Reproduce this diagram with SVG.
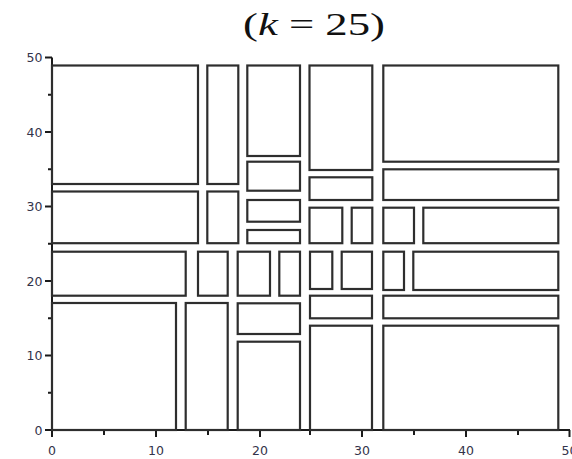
<svg xmlns="http://www.w3.org/2000/svg" width="572" height="459" viewBox="0 0 572 459">
<style>
.r{fill:none;stroke:#2e2e2e;stroke-width:2.2}
.ax{fill:none;stroke:#1a1a1a;stroke-width:2}
.tk{stroke:#1a1a1a;stroke-width:2}
.lb{font-family:"DejaVu Sans",sans-serif;font-size:12.5px;fill:#33334a}
.ttl{font-family:"Liberation Serif",serif;font-size:31px;fill:#111}
</style>
<rect width="572" height="459" fill="#fff"/>
<text class="ttl" x="243" y="35" textLength="142" lengthAdjust="spacingAndGlyphs">(<tspan font-style="italic">k</tspan> = 25)</text>
<g id="axes">
<path class="ax" d="M52,57.5 V430 H570"/>
<path class="tk" d="M45,57.5H52M48,94.75H52M45,132H52M48,169.25H52M45,206.5H52M48,243.75H52M45,281H52M48,318.25H52M45,355.5H52M48,392.75H52M45,430H52"/>
<path class="tk" d="M52,430V437M104,430V435M156,430V437M208,430V435M260,430V437M310,430V435M362,430V437M414,430V435M466,430V437M518,430V435M569.5,430V437"/>
<g class="lb" text-anchor="end">
<text x="42.5" y="62">50</text>
<text x="42.5" y="136.5">40</text>
<text x="42.5" y="211">30</text>
<text x="42.5" y="285.5">20</text>
<text x="42.5" y="360">10</text>
<text x="42.5" y="434.5">0</text>
</g>
<g class="lb" text-anchor="middle">
<text x="52" y="454.5">0</text>
<text x="156" y="454.5">10</text>
<text x="260" y="454.5">20</text>
<text x="362" y="454.5">30</text>
<text x="466" y="454.5">40</text>
<text x="569.5" y="454.5">50</text>
</g>
</g>
<g id="rects">
<g id="r1"><rect class="r" x="52" y="65.5" width="146" height="118.5"/></g>
<g id="r2"><rect class="r" x="207.3" y="65.5" width="31" height="118.5"/></g>
<g id="r3"><rect class="r" x="247.3" y="65.5" width="52.7" height="90.5"/></g>
<g id="r4"><rect class="r" x="309.5" y="65.5" width="62.8" height="104.5"/></g>
<g id="r5"><rect class="r" x="383.3" y="65.5" width="175" height="96.2"/></g>
<g id="r6"><rect class="r" x="52" y="191.5" width="146" height="51.7"/></g>
<g id="r7"><rect class="r" x="207.3" y="191.5" width="31" height="51.7"/></g>
<g id="r8"><rect class="r" x="247.3" y="161.7" width="52.7" height="29"/></g>
<g id="r9"><rect class="r" x="247.3" y="200" width="52.7" height="21.7"/></g>
<g id="r10"><rect class="r" x="247.3" y="230" width="52.7" height="13.2"/></g>
<g id="r11"><rect class="r" x="309.5" y="177.3" width="62.8" height="22.7"/></g>
<g id="r12"><rect class="r" x="309.5" y="207.7" width="32.8" height="35.5"/></g>
<g id="r13"><rect class="r" x="351.7" y="207.7" width="20.6" height="35.5"/></g>
<g id="r14"><rect class="r" x="383.3" y="169.3" width="175" height="30.7"/></g>
<g id="r15"><rect class="r" x="383.3" y="207.7" width="30.7" height="35.5"/></g>
<g id="r16"><rect class="r" x="423.3" y="207.7" width="135" height="35.5"/></g>
<g id="r17"><rect class="r" x="52" y="251.7" width="133.7" height="44"/></g>
<g id="r18"><rect class="r" x="198" y="251.7" width="29.7" height="44"/></g>
<g id="r19"><rect class="r" x="237.7" y="251.7" width="32.3" height="44"/></g>
<g id="r20"><rect class="r" x="279.3" y="251.7" width="20.7" height="44"/></g>
<g id="r21"><rect class="r" x="310" y="251.7" width="22.3" height="37.3"/></g>
<g id="r22"><rect class="r" x="341.7" y="251.7" width="30.3" height="37.3"/></g>
<g id="r23"><rect class="r" x="383.3" y="251.7" width="20.7" height="38.3"/></g>
<g id="r24"><rect class="r" x="413.3" y="251.7" width="145" height="38.3"/></g>
<g id="r25"><rect class="r" x="52" y="303" width="124" height="127"/></g>
<g id="r26"><rect class="r" x="185.7" y="303" width="42" height="127"/></g>
<g id="r27"><rect class="r" x="237.7" y="303.3" width="62.3" height="30.7"/></g>
<g id="r28"><rect class="r" x="237.7" y="341.7" width="62.3" height="88.3"/></g>
<g id="r29"><rect class="r" x="310" y="295.7" width="62" height="22.6"/></g>
<g id="r30"><rect class="r" x="310" y="325.7" width="62" height="104.3"/></g>
<g id="r31"><rect class="r" x="383.3" y="295.7" width="175" height="22.6"/></g>
<g id="r32"><rect class="r" x="383.3" y="325.7" width="175" height="104.3"/></g>
</g>
</svg>
